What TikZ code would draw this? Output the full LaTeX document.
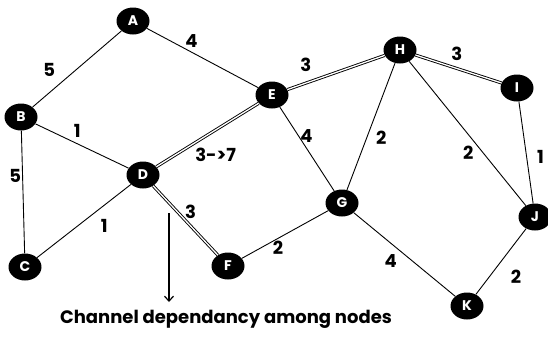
\documentclass[tikz,border=0pt]{standalone}
\usepackage{fontspec}
\setmainfont{Poppins}[Contextuals=NoAlternate, Ligatures=NoCommon]
\usetikzlibrary{arrows.meta}
\usetikzlibrary{shapes}
\usetikzlibrary{positioning}
\tikzstyle{station}=[ellipse, fill=black, text=white, minimum width=33pt, minimum height=27pt, inner sep=0pt, font=\fontsize{14}{14}\selectfont\bfseries, text centered]
\tikzstyle{link}=[draw, line width=0.9pt]
\tikzstyle{chan}=[draw=black, line width=0.9pt, double=white, double distance=1.3pt]
\tikzstyle{wt}=[inner sep=1pt, font=\fontsize{18}{18}\selectfont\bfseries]

\begin{document}
\begin{tikzpicture}[x=1pt, y=-1pt]

\useasboundingbox (0,0) rectangle (548,338);

\node[station] (A)         at (133,21)  {A};
\node[station] (B)         at (21,117)  {B};
\node[station] (C)         at (25,267)  {C};
\node[station] (D)         at (143,175) {D};
\node[station] (E)         at (272,95)  {E};
\node[station] (F)         at (228,266) {F};
\node[station] (G)         at (342,203) {G};
\node[station] (H)         at (400,50)  {H};
\node[station] (I)         at (517,88)  {I};
\node[station] (J)         at (535,217) {J};
\node[station] (K)         at (467,306) {K};

\draw[link] (A)       to node[wt, pos=.64, above left=2pt and 8pt] {5}      (B);
\draw[link] (A)       to node[wt, pos=.4, above=3pt] {4}      (E);
\draw[link] (B)       to node[wt, pos=.45, above=5pt] {1}      (D);
\draw[link] (B)       to node[wt, pos=.37, left=0pt] {5}      (C);
\draw[link] (C)       to node[wt, pos=.58, below right=3pt and 8pt] {1}      (D);
\draw[chan] (D)       to node[wt, pos=.58, below=17pt] {3->7}      (E);
\draw[chan] (D)       to node[wt, pos=.47, above right=-2pt and 0pt] {3}      (F);
\draw[chan] (E)       to node[wt, pos=.19, above=10pt] {3}      (H);
\draw[chan] (H)       to node[wt, pos=.48, above=6pt] {3}      (I);
\draw[link] (E)       to node[wt, pos=.35, right=0pt] {4}      (G);
\draw[link] (H)       to node[wt, pos=.59, right=8pt] {2}      (G);
\draw[link] (H)       to node[wt, pos=.57, below left=1pt] {2}      (J);
\draw[link] (I)       to node[wt, pos=.54, right=9pt] {1}      (J);
\draw[link] (F)       to node[wt, pos=.42, below=1pt] {2}      (G);
\draw[link] (G)       to node[wt, pos=.46, below left=3pt] {4}      (K);
\draw[link] (J)       to node[wt, pos=.51, below right=6pt and 9pt] {2}      (K);

\coordinate (tail) at (169,213);
\coordinate (head) at (169,302);
\draw[link, line width=1.2pt, -{Straight Barb[length=5pt, width=9pt]}] (tail) -- (head);
\node[wt] (caption) at (226,319) {Channel dependancy among nodes};

\end{tikzpicture}
\end{document}
